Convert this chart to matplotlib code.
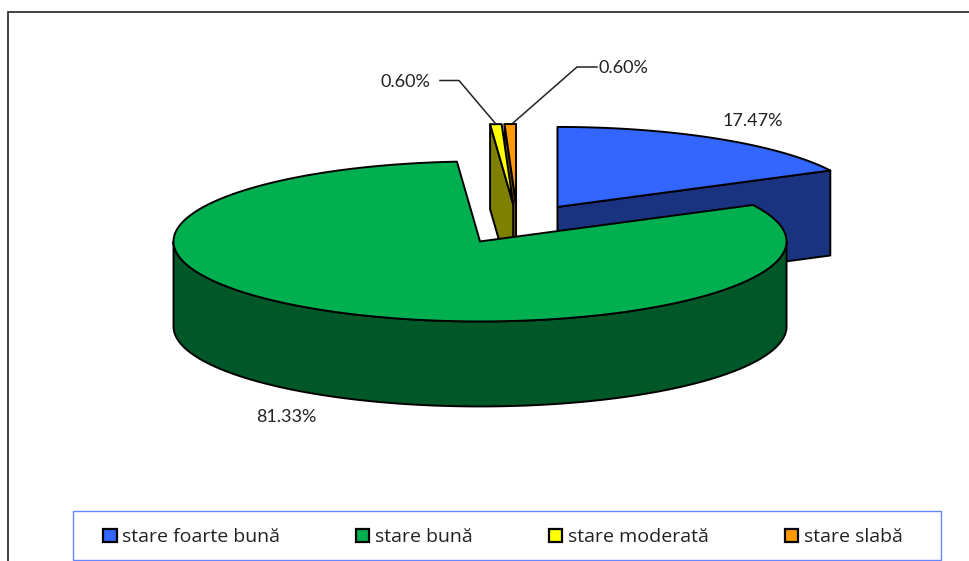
import numpy as np
import matplotlib
matplotlib.use("Agg")
import matplotlib.pyplot as plt
from matplotlib.colors import to_rgb
from matplotlib.patches import Patch, Polygon, Rectangle

plt.rcParams["font.family"] = ["Lato", "DejaVu Sans"]

categories = ["stare foarte bună", "stare bună", "stare moderată", "stare slabă"]
shares = [17.47, 81.33, 0.60, 0.60]
share_labels = ["17.47%", "81.33%", "0.60%", "0.60%"]
colors = ["#3366FF", "#00B050", "#FFFF00", "#FF9900"]

# pie geometry, in pixels of the picture
CX, CY = 517.5, 224
RX, RY = 306.5, 80
DEPTH = 85
EXPLODE = 0.25
EDGE = dict(edgecolor="black", linewidth=1.4, joinstyle="round")


def rim(cx, cy, a1, a2, dy=0):
    """Points on the ellipse, angles clockwise from 12 o'clock in degrees."""
    a = np.radians(np.linspace(a1, a2, max(2, int(a2 - a1) * 2)))
    return np.column_stack([cx + RX * np.sin(a), cy - RY * np.cos(a) + dy])


def draw_slice(ax, a1, a2, color):
    mid = np.radians((a1 + a2) / 2)
    cx = CX + EXPLODE * RX * np.sin(mid)
    cy = CY - EXPLODE * RY * np.cos(mid)
    dark = tuple(c / 2 for c in to_rgb(color))
    apex = np.array([cx, cy])
    down = np.array([0, DEPTH])

    # radial walls that face the viewer
    if 180 < a1 < 360:
        p = rim(cx, cy, a1, a1)[0]
        ax.add_patch(Polygon([p, p + down, apex + down, apex], facecolor=dark, **EDGE))
    if 0 < a2 < 180:
        p = rim(cx, cy, a2, a2)[0]
        ax.add_patch(Polygon([p, p + down, apex + down, apex], facecolor=dark, **EDGE))

    # outer wall, front half only
    lo, hi = max(a1, 90), min(a2, 270)
    if lo < hi:
        top = rim(cx, cy, lo, hi)
        ax.add_patch(Polygon(np.vstack([top, top[::-1] + down]), facecolor=dark, **EDGE))

    ax.add_patch(Polygon(np.vstack([apex, rim(cx, cy, a1, a2)]), facecolor=color, **EDGE))


fig = plt.figure(figsize=(9.7, 5.61), dpi=100)
ax = fig.add_axes([0, 0, 1, 1])
ax.set_xlim(0, 970)
ax.set_ylim(561, 0)
ax.axis("off")

# outer chart frame, only top and left show in the crop
ax.plot([8, 8, 970], [561, 12, 12], color="#333333", lw=1.3, solid_joinstyle="miter")

edges = np.concatenate([[0], np.cumsum(shares)]) * 3.6
spans = list(zip(edges[:-1], edges[1:]))

# back to front
for i in [3, 2, 0, 1]:
    draw_slice(ax, spans[i][0], spans[i][1], colors[i])

# leader lines of the two small slices
ax.plot([440, 459, 495], [80.5, 80.5, 123], color="#222222", lw=1.1)
ax.plot([597, 577, 513], [67, 67, 123], color="#222222", lw=1.1)

label_pos = [(405.5, 82), (623.5, 68)]
ax.text(753, 121, share_labels[0], ha="center", va="center", fontsize=13, color="#222222")
ax.text(286, 417, share_labels[1], ha="center", va="center", fontsize=13, color="#222222")
for text, (x, y) in zip(share_labels[2:], label_pos):
    ax.text(x, y, text, ha="center", va="center", fontsize=13, color="#222222")

# legend box drawn apart, its padding is not even left and right
ax.add_patch(Rectangle((73, 511), 868, 49, facecolor="white", edgecolor="#6688FF", linewidth=1))
handles = [Patch(facecolor=c, edgecolor="black", linewidth=1.6) for c in colors]
leg = ax.legend(handles, categories, ncol=4, loc="center",
                bbox_to_anchor=(503 / 970, 1 - 537 / 561), frameon=False,
                prop={"family": "Open Sans", "size": 14},
                handlelength=0.68, handleheight=0.68, handletextpad=0.3,
                columnspacing=3.9, borderpad=0, labelcolor="#222222")

fig.savefig("out.png", dpi=100)
